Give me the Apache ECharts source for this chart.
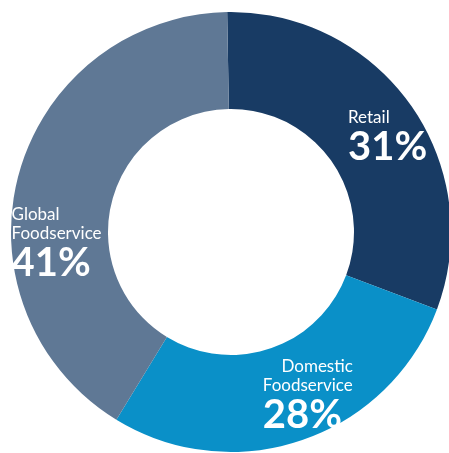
<!DOCTYPE html>
<html>
<head>
<meta charset="utf-8">
<script src="https://cdn.jsdelivr.net/npm/echarts@6/dist/echarts.min.js"></script>
<style>
html,body{margin:0;padding:0;background:#fff;}
#chart{width:449px;height:453px;}
</style>
</head>
<body>
<div id="chart"></div>
<script>
// Data
const categories = ['Retail', 'Domestic Foodservice', 'Global Foodservice'];
const labelLines = [['Retail'], ['Domestic', 'Foodservice'], ['Global', 'Foodservice']];
const values = [31, 28, 41];

// Styles
const colors = ['#183B64', '#0A90C8', '#5F7895'];
const labelOffsets = [[14, 6], [20, -1], [-6, 58]];
const nameAlign = ['left', 'right', 'left'];

const chart = echarts.init(document.getElementById('chart'), null, {renderer: 'canvas'});

const data = categories.map((c, i) => ({
  name: c,
  value: values[i],
  itemStyle: {color: colors[i]},
  label: {
    offset: labelOffsets[i],
    formatter: () => labelLines[i].map(t => '{n' + (nameAlign[i] === 'right' ? 'r' : 'l') + '|' + t + '}').join('\n') + '\n{p|' + values[i] + '%}'
  }
}));

chart.setOption({
  backgroundColor: '#ffffff',
  animation: false,
  series: [{
    type: 'pie',
    center: [231, 232],
    radius: [123, 220],
    startAngle: 91,
    clockwise: true,
    avoidLabelOverlap: false,
    labelLine: {show: false},
    emphasis: {disabled: true},
    label: {
      show: true,
      position: 'inside',
      color: '#ffffff',
      fontFamily: 'Lato',
      rich: {
        nl: {fontFamily: 'Lato', fontSize: 17, color: '#fff', lineHeight: 19, align: 'left'},
        nr: {fontFamily: 'Lato', fontSize: 17, color: '#fff', lineHeight: 19, align: 'right'},
        p: {fontFamily: 'Lato', fontSize: 40, fontWeight: 'bold', color: '#fff', lineHeight: 40, align: 'left'}
      }
    },
    data: data
  }]
});
</script>
</body>
</html>
